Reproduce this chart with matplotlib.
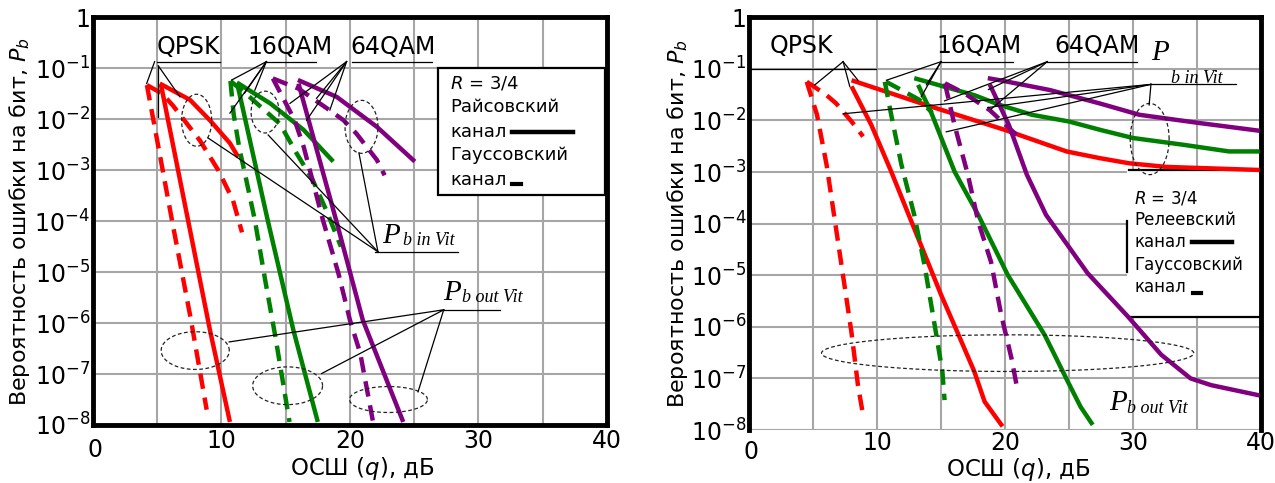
import numpy as np
import matplotlib.pyplot as plt
from matplotlib.patches import Rectangle
from matplotlib.transforms import blended_transform_factory

# values: SNR in dB, error probability as log10(Pb)
RED, GREEN, PURPLE = "#ff0000", "#008000", "#800080"

# ---- left panel: Rician (solid) / Gaussian (dashed) ----
l_qpsk_sol_in_x = [5.2, 7.55, 9.1, 10.66, 11.3]
l_qpsk_sol_in_y = [-1.3, -1.62, -2.02, -2.47, -2.74]
l_qpsk_sol_out_x = [5.3, 7.55, 9.1, 10.66]
l_qpsk_sol_out_y = [-1.33, -4.17, -6.13, -7.94]
l_qpsk_das_in_x = [4.2, 5.4, 6.25, 8.33, 9.75, 10.9, 11.6]
l_qpsk_das_in_y = [-1.33, -1.5, -1.74, -2.42, -3.0, -3.59, -4.22]
l_qpsk_das_out_x = [4.2, 6.2, 7.6, 8.85]
l_qpsk_das_out_y = [-1.33, -4.05, -5.9, -7.7]

l_16_sol_in_x = [11.2, 13.8, 16.4, 18.7]
l_16_sol_in_y = [-1.28, -1.69, -2.21, -2.83]
l_16_sol_out_x = [11.3, 13.6, 15.6, 17.5]
l_16_sol_out_y = [-1.38, -3.98, -6.14, -7.94]
l_16_das_in_x = [10.7, 12.0, 14.55, 15.85, 17.1, 18.2, 19.3]
l_16_das_in_y = [-1.25, -1.52, -2.09, -2.67, -3.19, -3.81, -4.5]
l_16_das_out_x = [10.7, 10.95, 11.4, 11.9, 12.6, 13.4, 14.2, 15.3]
l_16_das_out_y = [-1.25, -1.9, -2.58, -3.15, -3.98, -5.15, -6.27, -7.94]

l_64_sol_in_x = [15.95, 18.96, 22.1, 25.05]
l_64_sol_in_y = [-1.23, -1.56, -2.15, -2.83]
l_64_sol_out_x = [16.0, 19.0, 21.0, 24.15]
l_64_sol_out_y = [-1.3, -4.05, -5.94, -7.94]
l_64_das_in_x = [14.0, 16.0, 18.4, 19.5, 20.5, 21.3, 22.1, 22.7]
l_64_das_in_y = [-1.2, -1.4, -1.82, -2.02, -2.28, -2.54, -2.8, -3.1]
l_64_das_out_x = [14.0, 15.7, 16.4, 17.9, 19.1, 20.0, 20.8, 21.8]
l_64_das_out_y = [-1.2, -2.02, -2.54, -3.98, -5.02, -5.94, -6.59, -7.94]

# ---- right panel: Rayleigh (solid) / Gaussian (dashed) ----
r_qpsk_sol_in_x = [8.0, 14.2, 19.95, 21.1, 24.8, 27.4, 29.7, 32.6, 39.9]
r_qpsk_sol_in_y = [-1.22, -1.73, -2.18, -2.28, -2.6, -2.73, -2.83, -2.9, -2.96]
r_qpsk_sol_out_x = [8.0, 9.55, 11.1, 12.5, 15.0, 16.3, 17.6, 18.4, 19.8]
r_qpsk_sol_out_y = [-1.34, -2.09, -2.99, -3.85, -5.38, -6.12, -6.87, -7.45, -7.93]
r_qpsk_das_in_x = [4.5, 6.0, 6.8, 8.0, 8.9]
r_qpsk_das_in_y = [-1.25, -1.5, -1.67, -2.02, -2.31]
r_qpsk_das_out_x = [4.5, 5.3, 6.05, 6.75, 7.35, 8.0, 8.5, 8.9]
r_qpsk_das_out_y = [-1.25, -1.89, -2.86, -4.03, -5.03, -6.12, -7.13, -7.71]

r_16_sol_in_x = [12.9, 17.6, 19.6, 22.1, 25.0, 27.4, 30.0, 33.9, 37.5, 39.9]
r_16_sol_in_y = [-1.18, -1.51, -1.7, -1.89, -2.02, -2.18, -2.34, -2.47, -2.6, -2.6]
r_16_sol_out_x = [13.2, 14.2, 16.05, 17.9, 20.2, 23.1, 24.9, 25.9, 26.85]
r_16_sol_out_y = [-1.31, -1.83, -2.99, -3.83, -4.99, -6.16, -7.06, -7.55, -7.9]
r_16_das_in_x = [10.7, 11.9, 13.3, 14.3]
r_16_das_in_y = [-1.25, -1.41, -1.6, -1.85]
r_16_das_out_x = [10.6, 11.1, 11.9, 12.9, 13.7, 14.6, 15.1, 15.27]
r_16_das_out_y = [-1.25, -1.89, -2.86, -3.83, -4.8, -6.12, -6.87, -7.42]

r_64_sol_in_x = [18.65, 19.6, 23.5, 27.4, 30.5, 35.2, 39.9]
r_64_sol_in_y = [-1.18, -1.22, -1.41, -1.67, -1.89, -2.05, -2.2]
r_64_sol_out_x = [18.8, 20.3, 21.7, 23.2, 26.45, 29.6, 32.2, 34.5, 36.1, 39.9]
r_64_sol_out_y = [-1.3, -2.09, -3.05, -3.83, -4.96, -5.8, -6.54, -7.0, -7.13, -7.33]
r_64_das_in_x = [15.3, 16.8, 18.8, 20.9]
r_64_das_in_y = [-1.28, -1.47, -1.8, -2.28]
r_64_das_out_x = [15.3, 16.05, 17.1, 17.9, 18.9, 19.7, 20.5, 21.0]
r_64_das_out_y = [-1.28, -2.09, -3.06, -3.96, -4.74, -5.77, -6.61, -7.26]

# dashed ellipses: centre dB, centre log10, half width dB, half height decades
l_ell_cx = [8.07, 13.4, 20.9, 7.96, 15.15, 23.0]
l_ell_cy = [-2.02, -1.86, -2.15, -6.54, -7.23, -7.5]
l_ell_w = [1.17, 1.09, 1.28, 2.65, 2.72, 3.03]
l_ell_h = [0.51, 0.41, 0.52, 0.37, 0.37, 0.255]
r_ell_cx = [20.2, 31.3]
r_ell_cy = [-6.51, -2.36]
r_ell_w = [14.55, 1.52]
r_ell_h = [0.355, 0.69]

# pointer lines: x0, y0, x1, y1
l_ptr = [
    (4.98, -0.87, 9.88, -0.87), (4.8, -0.87, 4.18, -1.3),
    (5.08, -0.95, 5.08, -1.95), (5.08, -0.95, 6.77, -1.56),
    (13.54, -0.87, 17.35, -0.87), (13.5, -0.87, 10.8, -1.23),
    (13.5, -0.87, 11.8, -1.49), (13.5, -0.87, 12.6, -1.43),
    (13.5, -0.87, 10.66, -1.88),
    (20.16, -0.87, 26.4, -0.87), (19.74, -0.87, 15.33, -1.69),
    (19.74, -0.87, 16.63, -2.02), (19.74, -0.87, 18.44, -1.82),
    (19.74, -0.87, 17.4, -1.59),
    (21.95, -4.6, 28.4, -4.6), (22.18, -4.6, 8.97, -2.37),
    (22.18, -4.6, 13.64, -2.31), (22.18, -4.6, 20.7, -2.66),
    (27.0, -5.74, 31.7, -5.74), (27.3, -5.74, 10.6, -6.37),
    (27.3, -5.74, 17.8, -6.99), (27.3, -5.74, 25.3, -7.35),
]
r_ptr = [
    (0.0, -1.0, 9.95, -1.0), (7.34, -0.86, 5.13, -1.31),
    (7.34, -0.86, 7.86, -1.34), (7.34, -0.86, 8.5, -1.22),
    (15.0, -0.86, 20.6, -0.86), (15.0, -0.86, 10.73, -1.22),
    (15.0, -0.86, 13.45, -1.54), (15.0, -0.86, 13.85, -1.31),
    (23.3, -0.86, 30.3, -0.86), (23.3, -0.86, 15.27, -1.62),
    (23.3, -0.86, 18.7, -1.4), (23.3, -0.86, 18.9, -1.78),
    (31.4, -1.3, 38.05, -1.3), (31.4, -1.3, 7.34, -1.87),
    (31.4, -1.3, 15.4, -2.22), (31.4, -1.3, 18.65, -1.75),
    (31.4, -1.3, 31.26, -1.7),
]

SOLID = "-"
DASH = (0, (3.5, 2))

left_curves = [
    (l_qpsk_sol_in_x, l_qpsk_sol_in_y, RED, SOLID),
    (l_qpsk_sol_out_x, l_qpsk_sol_out_y, RED, SOLID),
    (l_qpsk_das_in_x, l_qpsk_das_in_y, RED, DASH),
    (l_qpsk_das_out_x, l_qpsk_das_out_y, RED, DASH),
    (l_16_sol_in_x, l_16_sol_in_y, GREEN, SOLID),
    (l_16_sol_out_x, l_16_sol_out_y, GREEN, SOLID),
    (l_16_das_in_x, l_16_das_in_y, GREEN, DASH),
    (l_16_das_out_x, l_16_das_out_y, GREEN, DASH),
    (l_64_sol_in_x, l_64_sol_in_y, PURPLE, SOLID),
    (l_64_sol_out_x, l_64_sol_out_y, PURPLE, SOLID),
    (l_64_das_in_x, l_64_das_in_y, PURPLE, DASH),
    (l_64_das_out_x, l_64_das_out_y, PURPLE, DASH),
]
right_curves = [
    (r_qpsk_sol_in_x, r_qpsk_sol_in_y, RED, SOLID),
    (r_qpsk_sol_out_x, r_qpsk_sol_out_y, RED, SOLID),
    (r_qpsk_das_in_x, r_qpsk_das_in_y, RED, DASH),
    (r_qpsk_das_out_x, r_qpsk_das_out_y, RED, DASH),
    (r_16_sol_in_x, r_16_sol_in_y, GREEN, SOLID),
    (r_16_sol_out_x, r_16_sol_out_y, GREEN, SOLID),
    (r_16_das_in_x, r_16_das_in_y, GREEN, DASH),
    (r_16_das_out_x, r_16_das_out_y, GREEN, DASH),
    (r_64_sol_in_x, r_64_sol_in_y, PURPLE, SOLID),
    (r_64_sol_out_x, r_64_sol_out_y, PURPLE, SOLID),
    (r_64_das_in_x, r_64_das_in_y, PURPLE, DASH),
    (r_64_das_out_x, r_64_das_out_y, PURPLE, DASH),
]

x_ticks = list(range(0, 45, 5))
x_labels = ["", "", "10", "", "20", "", "30", "", "40"]
y_ticks = [10.0 ** -k for k in range(9)]
y_labels = ["1"] + ["$10^{-%d}$" % k for k in range(1, 9)]

plt.rcParams["font.family"] = ["DejaVu Sans"]
plt.rcParams["mathtext.fontset"] = "dejavusans"

fig = plt.figure(figsize=(12.75, 4.83), dpi=100)
axL = fig.add_axes([0.0729, 0.1201, 0.4031, 0.8441])
axR = fig.add_axes([0.5876, 0.1097, 0.4014, 0.8545])


def setup(ax, zero_y, xlab_y, ylab_x, xpad, bottom_spine=True):
    ax.set_yscale("log")
    ax.set_xlim(0, 40)
    ax.set_ylim(1e-8, 1)
    ax.set_xticks(x_ticks)
    ax.set_xticklabels(x_labels, fontsize=17)
    ax.set_yticks(y_ticks)
    ax.set_yticklabels(y_labels, fontsize=17)
    ax.yaxis.set_minor_locator(plt.NullLocator())
    ax.tick_params(length=0, pad=2)
    ax.tick_params(axis="x", pad=xpad)
    ax.grid(True, color="#a6a6a6", lw=1.5)
    ax.set_axisbelow(True)
    for s in ax.spines.values():
        s.set_linewidth(3.5)
        s.set_color("black")
    if not bottom_spine:
        ax.spines["bottom"].set_visible(False)
    tr = blended_transform_factory(ax.transData, ax.transAxes)
    ax.text(0.15, zero_y, "0", transform=tr, fontsize=17, ha="center", va="center")
    ax.set_xlabel("ОСШ ($q$), дБ", fontsize=16.5, labelpad=0)
    ax.xaxis.set_label_coords(0.525, xlab_y)
    ax.set_ylabel("Вероятность ошибки на бит, $P_b$", fontsize=16)
    ax.yaxis.set_label_coords(ylab_x, 0.5)


def draw(ax, curves, ell, ptrs):
    for xs, ys, c, ls in curves:
        ax.plot(xs, 10.0 ** np.array(ys), color=c, lw=3.2, ls=ls,
                solid_capstyle="butt", zorder=3)
    t = np.linspace(0, 2 * np.pi, 120)
    for cx, cy, w, h in zip(*ell):
        ax.plot(cx + w * np.cos(t), 10.0 ** (cy + h * np.sin(t)),
                color="#222222", lw=0.9, ls=(0, (3, 2)), zorder=4)
    for x0, y0, x1, y1 in ptrs:
        ax.plot([x0, x1], [10.0 ** y0, 10.0 ** y1], color="black", lw=0.9, zorder=4)


setup(axL, -0.061, -0.074, -0.119, 3)
setup(axR, -0.053, -0.062, -0.115, 0.5, bottom_spine=False)

draw(axL, left_curves, (l_ell_cx, l_ell_cy, l_ell_w, l_ell_h), l_ptr)
draw(axR, right_curves, (r_ell_cx, r_ell_cy, r_ell_w, r_ell_h), r_ptr)

# modulation labels
for ax, xs, ys, names in [
    (axL, [4.98, 12.06, 20.0], -0.59, ["QPSK", "16QAM", "64QAM"]),
    (axR, [1.62, 14.65, 23.85], -0.56, ["QPSK", "16QAM", "64QAM"]),
]:
    for x, n in zip(xs, names):
        ax.text(x, 10 ** ys, n, fontsize=17, ha="left", va="center", zorder=5)

serif = dict(family="Liberation Serif", style="italic")
# P_b in / out Vit labels
axL.text(22.5, 10 ** -4.43, "P", fontsize=21, ha="left", va="baseline", zorder=5, **serif)
axL.text(24.1, 10 ** -4.47, "b in Vit", fontsize=13, ha="left", va="baseline", zorder=5, **serif)
axL.text(27.24, 10 ** -5.55, "P", fontsize=21, ha="left", va="baseline", zorder=5, **serif)
axL.text(28.7, 10 ** -5.58, "b out Vit", fontsize=13, ha="left", va="baseline", zorder=5, **serif)
axR.text(31.4, 10 ** -0.83, "P", fontsize=21, ha="left", va="baseline", zorder=5, **serif)
axR.text(33.0, 10 ** -1.27, "b in Vit", fontsize=13, ha="left", va="baseline", zorder=5, **serif)
axR.text(28.15, 10 ** -7.61, "P", fontsize=21, ha="left", va="baseline", zorder=5, **serif)
axR.text(29.55, 10 ** -7.67, "b out Vit", fontsize=13, ha="left", va="baseline", zorder=5, **serif)

# left legend box
axL.add_patch(Rectangle((26.85, 10 ** -3.49), 39.85 - 26.85, 10 ** -1.0 - 10 ** -3.49,
                        facecolor="white", edgecolor="black", lw=1.6, zorder=2))
for y, s in zip([-1.295, -1.754, -2.245, -2.70, -3.19],
                ["$R$ = 3/4", "Райсовский", "канал", "Гауссовский", "канал"]):
    axL.text(27.8, 10 ** y, s, fontsize=13, va="center", ha="left", zorder=5)
axL.plot([32.6, 37.35], [10 ** -2.245, 10 ** -2.245], color="black", lw=3.2, zorder=5)
axL.plot([32.6, 33.3], [10 ** -3.27, 10 ** -3.27], color="black", lw=3, zorder=5)

# right legend box
axR.add_patch(Rectangle((29.5, 10 ** -5.81), 10.5, 10 ** -2.96 - 10 ** -5.81,
                        facecolor="white", edgecolor="none", zorder=2))
axR.plot([29.7, 40], [10 ** -2.96, 10 ** -2.96], color="black", lw=1.6, zorder=2.5)
axR.plot([29.6, 40], [10 ** -5.81, 10 ** -5.81], color="black", lw=1.6, zorder=2.5)
axR.plot([29.55, 29.55], [10 ** -3.95, 10 ** -4.94], color="black", lw=1.6, zorder=2.5)
for y, s in zip([-3.51, -3.93, -4.35, -4.8, -5.22],
                ["$R$ = 3/4", "Релеевский", "канал", "Гауссовский", "канал"]):
    axR.text(30.1, 10 ** y, s, fontsize=12, va="center", ha="left", zorder=5)
axR.plot([34.6, 37.75], [10 ** -4.35, 10 ** -4.35], color="black", lw=3.2, zorder=5)
axR.plot([34.7, 35.3], [10 ** -5.34, 10 ** -5.34], color="black", lw=3, zorder=5)

fig.savefig("out.png", dpi=100)
